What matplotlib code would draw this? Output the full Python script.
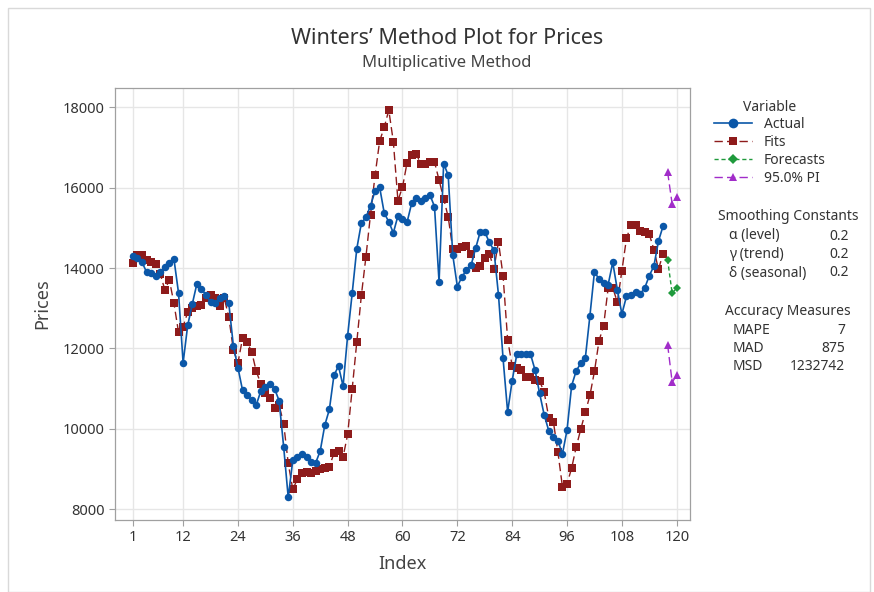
import matplotlib
matplotlib.use("Agg")
import matplotlib.pyplot as plt
from matplotlib.lines import Line2D
from matplotlib.patches import Rectangle
import numpy as np

plt.rcParams['font.family'] = ['Noto Sans', 'DejaVu Sans']

actual = [14300, 14250, 14150, 13900, 13870, 13800, 13900, 14030, 14130, 14220,
          13380, 11640, 12570, 13100, 13600, 13480, 13330, 13150, 13130, 13250,
          13300, 13120, 12060, 11520, 10960, 10840, 10710, 10590, 10940, 11050,
          11120, 11000, 10700, 9550, 8290, 9220, 9300, 9370, 9290, 9180,
          9150, 9450, 10090, 10480, 11330, 11560, 11060, 12320, 13380, 14480,
          15120, 15260, 15550, 15920, 16010, 15370, 15150, 14875, 15300, 15230,
          15140, 15610, 15740, 15670, 15740, 15820, 15530, 13650, 16600, 16310,
          14320, 13540, 13780, 13950, 14070, 14490, 14900, 14900, 14640, 14445,
          13330, 11750, 10420, 11200, 11850, 11860, 11860, 11860, 11460, 10880,
          10345, 9950, 9790, 9700, 9380, 9970, 11070, 11440, 11630, 11760,
          12810, 13910, 13720, 13640, 13590, 14140, 13460, 12855, 13295, 13340,
          13410, 13355, 13505, 13810, 14050, 14670, 15040]

fits = [14130, 14315, 14315, 14190, 14150, 14090, 13850, 13460, 13700, 13120,
        12400, 12540, 12900, 13010, 13050, 13070, 13250, 13340, 13250, 13050,
        13250, 12780, 11950, 11640, 12250, 12150, 11920, 11430, 11125, 10900,
        10760, 10520, 10590, 10130, 9140, 8490, 8750, 8900, 8920, 8890,
        8940, 8990, 9020, 9060, 9390, 9450, 9300, 9860, 11000, 12160,
        13320, 14280, 15330, 16310, 17160, 17500, 17930, 17140, 15680, 16010,
        16620, 16820, 16850, 16580, 16590, 16640, 16640, 16190, 15730, 15270,
        14470, 14480, 14520, 14540, 14360, 13990, 14050, 14250, 14360, 13980,
        14650, 13810, 12220, 11560, 11510, 11460, 11300, 11290, 11210, 11190,
        10910, 10280, 10180, 9420, 8550, 8630, 9020, 9545, 9990, 10410,
        10830, 11430, 12190, 12565, 13510, 13510, 13150, 13935, 14735, 15075,
        15075, 14920, 14890, 14840, 14460, 13970, 14350]

forecast_index = [118, 119, 120]
forecasts = [14210, 13370, 13510]
pi_upper = [16390, 15590, 15780]
pi_lower = [12095, 11160, 11330]

x_ticks = [1, 12, 24, 36, 48, 60, 72, 84, 96, 108, 120]
y_ticks = [8000, 10000, 12000, 14000, 16000, 18000]

c_act = '#0B57A8'
c_fit = '#8E1B1B'
c_fc = '#1F9A3C'
c_pi = '#A12CC9'

W, H = 874, 592
fig = plt.figure(figsize=(W / 100, H / 100), dpi=100)
fig.patch.set_facecolor('white')
fig.add_artist(Rectangle((8 / W, 0), (W - 12) / W, (H - 8) / H, transform=fig.transFigure,
                         fill=False, edgecolor='#d9d9d9', linewidth=1))

ax = fig.add_axes([115 / W, 1 - 520 / H, 575 / W, 432 / H])

idx = np.arange(1, len(actual) + 1)
ax.plot(idx, actual, color=c_act, linewidth=1.2, marker='o', markersize=5.4,
        markeredgewidth=0, zorder=3)
ax.plot(idx, fits, color=c_fit, linewidth=1.0, linestyle=(0, (6, 3)), marker='s',
        markersize=5.8, markeredgewidth=0, zorder=2)
ax.plot(forecast_index, forecasts, color=c_fc, linewidth=1.0, linestyle=(0, (3, 2)),
        marker='D', markersize=4.3, markeredgewidth=0, zorder=4)
ax.plot(forecast_index, pi_upper, color=c_pi, linewidth=1.0, linestyle=(0, (6, 3)),
        marker='^', markersize=5.5, markeredgewidth=0, zorder=4)
ax.plot(forecast_index, pi_lower, color=c_pi, linewidth=1.0, linestyle=(0, (6, 3)),
        marker='^', markersize=5.5, markeredgewidth=0, zorder=4)

ax.set_xlim(-2.9, 122.9)
ax.set_ylim(7730, 18480)
ax.set_xticks(x_ticks)
ax.set_yticks(y_ticks)
ax.set_xticklabels([str(t) for t in x_ticks])
ax.set_yticklabels([str(t) for t in y_ticks])
ax.grid(True, color='#e6e6e6', linewidth=1.0)
ax.set_axisbelow(True)
for s in ax.spines.values():
    s.set_color('#a0a0a0')
    s.set_linewidth(0.9)
ax.tick_params(axis='both', labelsize=10.5, colors='#333333', length=4, color='#a0a0a0')
ax.set_xlabel('Index', fontsize=13, color='#444444', labelpad=7)
ax.set_ylabel('Prices', fontsize=13, color='#444444', labelpad=8)

fig.text(447 / W, 1 - 38 / H, "Winters\u2019 Method Plot for Prices", ha='center', va='center',
         fontsize=15.5, color='#333333')
fig.text(447 / W, 1 - 63 / H, "Multiplicative Method", ha='center', va='center',
         fontsize=12, color='#444444')

handles = [
    Line2D([], [], color=c_act, linewidth=1.2, marker='o', markersize=7, markeredgewidth=0),
    Line2D([], [], color=c_fit, linewidth=1.0, linestyle=(0, (6, 3)), marker='s', markersize=6, markeredgewidth=0),
    Line2D([], [], color=c_fc, linewidth=1.0, linestyle=(0, (3, 2)), marker='D', markersize=5, markeredgewidth=0),
    Line2D([], [], color=c_pi, linewidth=1.0, linestyle=(0, (6, 3)), marker='^', markersize=6, markeredgewidth=0),
]
labels = ['Actual', 'Fits', 'Forecasts', '95.0% PI']
leg = fig.legend(handles, labels, title='Variable', loc='upper left',
                 bbox_to_anchor=(708 / W, 1 - 94 / H), frameon=False, fontsize=10,
                 title_fontsize=10, handlelength=2.8, handletextpad=0.8,
                 labelspacing=0.2, borderaxespad=0)
leg._legend_box.sep = 2
for t in leg.get_texts():
    t.set_color('#333333')
leg.get_title().set_color('#333333')

tc = '#333333'
fig.text(788 / W, 1 - 217 / H, 'Smoothing Constants', ha='center', va='center', fontsize=10, color=tc)
rows1 = [('\u03b1 (level)', '0.2'), ('\u03b3 (trend)', '0.2'), ('\u03b4 (seasonal)', '0.2')]
for k, (a, b) in enumerate(rows1):
    y = 1 - (236 + k * 18.5) / H
    fig.text(729 / W, y, a, ha='left', va='center', fontsize=10, color=tc)
    fig.text(849 / W, y, b, ha='right', va='center', fontsize=10, color=tc)

fig.text(788 / W, 1 - 312 / H, 'Accuracy Measures', ha='center', va='center', fontsize=10, color=tc)
rows2 = [('MAPE', '7'), ('MAD', '875'), ('MSD', '1232742')]
for k, (a, b) in enumerate(rows2):
    y = 1 - (330 + k * 18.5) / H
    fig.text(733 / W, y, a, ha='left', va='center', fontsize=10, color=tc)
    fig.text(845 / W, y, b, ha='right', va='center', fontsize=10, color=tc)

fig.savefig('out.png', dpi=100)
